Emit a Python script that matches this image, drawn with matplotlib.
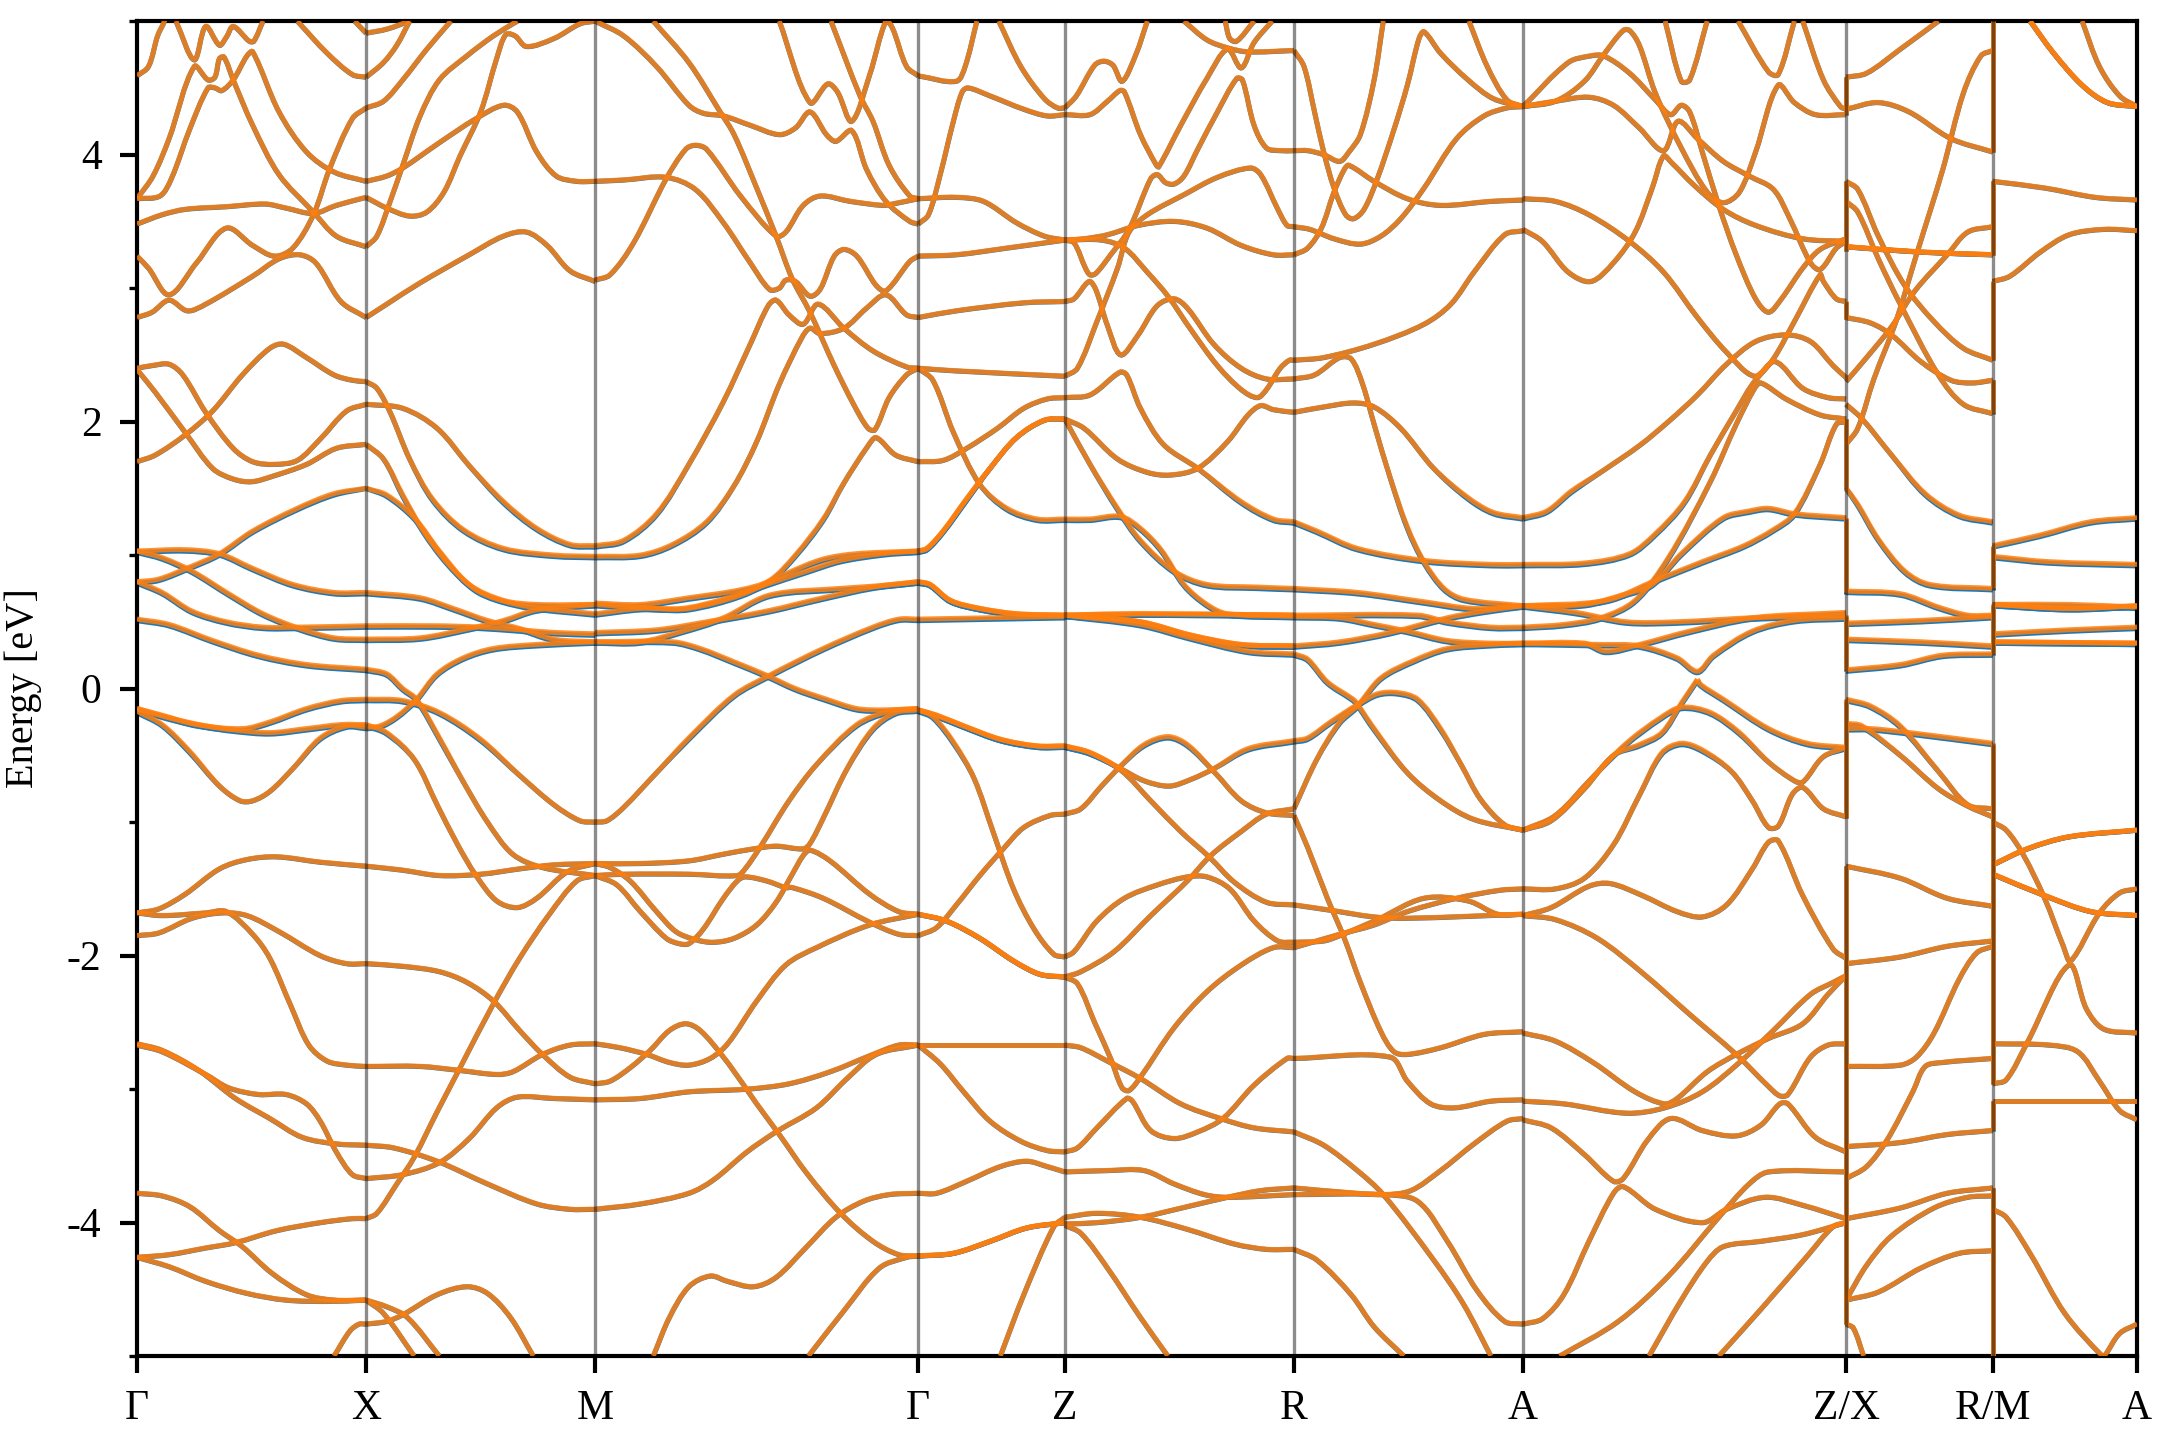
import numpy as np
import matplotlib
matplotlib.use("Agg")
import matplotlib.pyplot as plt
from matplotlib.patches import PathPatch
from matplotlib.path import Path

plt.rcParams["font.family"] = ["Liberation Serif", "DejaVu Serif"]

# high symmetry points along the k-path
K_TICKS = [0, 1, 2, 3.41, 4.05, 5.05, 6.05, 7.46, 8.10, 8.73]
K_LABELS = ["Γ", "X", "M", "Γ", "Z", "R", "A", "Z/X", "R/M", "A"]

# every band is a flat list: percent along the segment, energy, percent, energy ...
GX_BANDS = [
    [0,4.59,5,4.66,9,4.89,12,5.0,14,5.1],
    [17,5.0,25,4.71,30,4.96,36,4.82,39,4.88,42,4.96,49,4.85,51,4.85,55,5.0],
    [0,3.67,7,3.84,14,4.12,25,4.66,31,4.56,34,4.58,36,4.72,38,4.73,42,4.56,50.5,4.22,62,3.85,77,3.57,87,3.39,100,3.31],
    [0,3.67,10,3.69,15,3.82,23,4.19,31,4.5,34,4.5,37,4.48,42,4.56,48,4.74,50.5,4.77,62,4.32,74,4.02,86,3.87,100,3.8],
    [0,3.48,11,3.55,21,3.59,39,3.61,56,3.63,65,3.6,77,3.56,87,3.62,100,3.68],
    [0,3.24,5,3.15,14,2.95,26,3.19,39,3.45,50.5,3.32,60,3.24,68,3.3,77,3.55,84,3.89,94,4.27,100,4.35],
    [0,2.78,6.6,2.82,14,2.91,22,2.83,30,2.88,50.5,3.09,62,3.22,71,3.25,78,3.19,89,2.9,100,2.78],
    [95,5.0,100,4.91],
    [70,5.0,83,4.76,94,4.6,100,4.58],
    [0,2.4,6.6,2.42,14,2.43,20,2.35,30,2.07,42,1.8,50.5,1.7,60,1.68,70,1.71,80,1.87,91.5,2.08,100,2.13],
    [0,2.39,8,2.22,21,1.92,33,1.65,42,1.57,50,1.55,59,1.59,74,1.68,87,1.8,100,1.83],
    [0,1.7,8,1.75,21,1.9,33,2.08,46,2.35,58,2.55,64,2.58,74,2.48,86,2.35,94,2.31,100,2.3],
    [0,1.03,21,1.04,36,1.01,50.5,.9,68,.78,86,.72,100,.72],
    [0,1.03,11,.98,24,.88,40,.71,55,.56,71,.45,86,.38,100,.37],
    [0,.8,9.5,.82,23,.91,36,1.01,50.5,1.18,70,1.35,86,1.46,100,1.5],
    [0,.8,11,.72,24,.58,39,.5,55,.46,71,.46,100,.47],
    [0,.52,14,.48,33,.36,53,.25,74,.18,100,.145],
    [0,-.15,11,-.2,26,-.27,46,-.3,58,-.25,74,-.15,89,-.09,100,-.08],
    [0,-.15,14,-.22,30,-.28,42,-.31,58,-.33,74,-.3,89,-.27,100,-.27],
    [0,-.17,11,-.27,23,-.47,36,-.73,45,-.84,50.5,-.84,58,-.77,68,-.6,80,-.37,91.5,-.28,100,-.29],
    [0,-1.68,9.5,-1.65,21,-1.54,36,-1.35,48,-1.28,61,-1.26,80,-1.3,100,-1.33],
    [0,-1.68,11,-1.7,30,-1.68,39,-1.67,50.5,-1.84,58,-2.02,67,-2.37,75,-2.67,83,-2.79,91.5,-2.82,100,-2.83],
    [0,-1.85,9.5,-1.83,24,-1.72,37,-1.68,48,-1.7,62,-1.82,80,-2.0,91.5,-2.06,100,-2.06],
    [0,-2.67,11,-2.72,30,-2.89,40,-2.99,53,-3.04,65,-3.04,74,-3.11,80,-3.24,87,-3.47,94,-3.64,100,-3.67],
    [0,-2.66,11,-2.71,27,-2.86,43,-3.07,58,-3.22,72,-3.36,87,-3.41,100,-3.42],
    [0,-3.78,11,-3.8,23,-3.88,36,-4.06,46,-4.18,59,-4.38,74,-4.54,86,-4.58,100,-4.58],
    [0,-4.26,14,-4.24,30,-4.19,43,-4.15,61,-4.06,80,-4.0,94,-3.97,100,-3.97],
    [0,-4.26,14,-4.33,30,-4.44,48,-4.53,65,-4.58,83,-4.59,100,-4.58],
    [86,-5,93,-4.81,97,-4.76,100,-4.76],
]

XM_BANDS = [
    [0,4.91,9,4.94,19,5.0],
    [0,4.58,7.6,4.69,13.4,4.82,19,5.0],
    [0,4.35,7.6,4.4,16,4.56,26.5,4.79,37,5.0],
    [0,3.31,4.7,3.39,10.5,3.65,16,3.92,23.6,4.29,32,4.56,44,4.74,55.6,4.89,66,5.0],
    [0,3.8,9,3.84,16,3.9,32,4.09,48,4.27,60,4.37,66,4.32,74.5,4.02,83,3.84,92,3.8,100,3.8],
    [0,3.68,9,3.6,19,3.54,26.5,3.57,34,3.72,41,3.99,50,4.32,57,4.72,61,4.9,65,4.89,70,4.81,82,4.87,93.4,4.98,100,5.0],
    [0,2.78,9,2.88,23.6,3.04,45,3.25,60,3.39,70,3.42,79,3.32,89,3.13,100,3.05],
    [0,2.3,4.7,2.25,10.5,2.07,19,1.72,29,1.42,42.5,1.19,60,1.05,82,1.0,100,.99],
    [0,2.13,16,2.1,31,1.95,45,1.67,60,1.4,74.5,1.2,89,1.08,100,1.07],
    [0,1.83,7.6,1.72,16,1.45,25,1.18,35,.95,47,.75,57,.67,72,.61,100,.56],
    [0,1.5,9,1.45,21,1.28,32,1.03,45,.78,60,.66,74.5,.63,100,.63],
    [0,.72,23.6,.68,38,.6,53,.51,67,.45,82,.37,100,.35],
    [0,.47,31,.47,50,.46,67,.44,82,.42,100,.41],
    [0,.37,23.6,.38,45,.45,60,.51,74.5,.59,100,.63],
    [0,.145,9,.11,16,0,22,-.08,32,-.37,42.5,-.7,53,-1.0,64,-1.24,77,-1.34,100,-1.4],
    [0,-.08,16,-.09,32,-.18,50,-.38,67,-.65,82,-.87,93.4,-.99,100,-1.0],
    [0,-.29,6,-.28,13.4,-.21,22,-.08,31,.11,42.5,.23,55.6,.3,74.5,.33,100,.35],
    [0,-.27,9,-.33,21,-.53,31,-.87,40,-1.17,48,-1.4,57,-1.59,66,-1.64,74.5,-1.57,88,-1.37,100,-1.31],
    [0,-1.33,16,-1.36,32,-1.4,50,-1.39,67,-1.35,82,-1.32,100,-1.31],
    [0,-2.06,16,-2.08,32,-2.12,44,-2.2,55.6,-2.34,67,-2.56,77,-2.74,89,-2.91,100,-2.96],
    [0,-3.97,4.7,-3.93,13.4,-3.71,21,-3.51,31,-3.17,41,-2.84,55.6,-2.36,67,-2.02,80,-1.69,92,-1.44,100,-1.4],
    [0,-2.83,23.6,-2.83,41,-2.86,57,-2.89,64,-2.87,77,-2.74,89,-2.67,100,-2.66],
    [0,-3.42,12,-3.44,31,-3.54,53,-3.71,74.5,-3.86,89,-3.9,100,-3.9],
    [0,-3.67,16,-3.64,32,-3.55,45,-3.37,57,-3.14,66,-3.06,82,-3.07,100,-3.08],
    [0,-4.58,9,-4.63,18,-4.71,32,-5.0],
    [0,-4.58,7.6,-4.68,21,-5.0],
    [0,-4.76,9,-4.74,16,-4.69,31,-4.54,44,-4.48,53,-4.53,63,-4.71,73,-5.0],
]

MG_BANDS = [
    [0,5.0,8.8,4.89,19,4.66,29,4.37,33.5,4.31,39.7,4.29,48,4.22,57,4.15,62,4.2,66.5,4.32,71.6,4.15,74.5,4.1,79.4,4.18,84,3.89,90,3.65,97.4,3.5,100,3.48],
    [18,5.0,29,4.69,38.7,4.32,43,4.15,50,3.75,56,3.39,61,3.07,66.5,2.82,74,2.42,80,2.13,84.5,1.95,86.6,1.94,91,2.18,96.4,2.35,100,2.4],
    [57,5.0,66.5,4.39,72,4.53,75,4.47,79.4,4.25,85,4.6,90,5.0,92,4.95,96.4,4.66,100,4.59],
    [73,5.0,82,4.44,86,4.25,91,3.92,97.4,3.69,100,3.67],
    [0,3.8,8.8,3.81,22,3.83,31,3.74,39.7,3.49,48,3.19,54,2.99,57,3.0,59,3.06,62,3.05,66.5,2.94,69.6,2.99,74,3.24,77,3.29,81,3.24,87,3.02,90,2.98,97.4,3.2,100,3.24],
    [0,3.06,4.6,3.1,11.9,3.34,22,3.82,28,4.04,31,4.07,34.5,4.04,45,3.69,56,3.39,59,3.42,64.4,3.62,69.6,3.69,79,3.65,89,3.62,92,3.63,100,3.67],
    [0,1.07,8.8,1.11,19,1.31,29,1.68,39.7,2.15,48,2.58,53.6,2.87,56,2.91,60,2.8,64.4,2.73,69,2.88,77,2.7,86,2.53,96.4,2.41,100,2.4],
    [0,.99,14,1.0,24,1.08,34.5,1.25,43,1.52,50,1.85,57,2.28,64,2.63,66.5,2.7,69.6,2.66,77,2.7,84,2.85,90,2.95,96.4,2.8,100,2.78],
    [0,.64,14,.63,29,.68,45,.74,54,.81,62,1.0,70.6,1.27,77,1.54,84.5,1.82,87,1.88,93,1.75,100,1.7],
    [0,.56,14,.6,27,.6,39.7,.67,53,.78,65.5,.88,76,.96,89,1.01,100,1.03],
    [0,.63,19,.6,29,.6,45,.7,60,.87,70.6,.97,81,1.01,100,1.03],
    [0,.42,19,.44,34.5,.5,53,.58,70.6,.68,86,.76,100,.8],
    [0,.35,14,.35,27,.43,39.7,.53,54,.7,76,.75,88,.77,100,.8],
    [0,.35,24,.35,32.5,.3,43,.2,53,.1,62,0,71.6,-.08,81,-.15,89,-.16,100,-.15],
    [0,-1.0,3.6,-.99,8.8,-.89,19,-.63,29,-.37,43,-.05,54,.1,70.6,.3,86,.46,94,.52,100,.52],
    [0,-1.31,14,-1.31,29,-1.29,39.7,-1.24,49,-1.2,56,-1.18,64.4,-1.2,66.5,-1.16,70.6,-.97,78,-.6,86,-.3,93,-.18,100,-.16],
    [0,-1.4,8.8,-1.39,29,-1.39,44,-1.4,46.4,-1.35,51,-1.19,60,-.84,68.5,-.57,81,-.27,91,-.17,100,-.15],
    [0,-1.4,6.7,-1.47,14,-1.67,22,-1.87,26,-1.91,29,-1.91,33.5,-1.8,39.7,-1.57,44,-1.44,46.4,-1.41,53,-1.44,59,-1.49,61,-1.49,70.6,-1.57,85,-1.75,94,-1.84,100,-1.85],
    [0,-1.31,4.6,-1.34,10.8,-1.44,19,-1.67,25,-1.82,31,-1.88,36.6,-1.9,43,-1.87,50,-1.77,56,-1.6,61,-1.39,64.4,-1.25,66.5,-1.21,72.7,-1.29,85,-1.54,94,-1.67,100,-1.69],
    [0,-2.66,7.7,-2.69,16,-2.74,23,-2.8,29,-2.82,35.6,-2.77,41,-2.66,50,-2.34,59,-2.07,68.5,-1.94,85,-1.77,100,-1.69],
    [0,-2.96,4.6,-2.94,10.8,-2.84,17,-2.71,23,-2.56,28,-2.51,32.5,-2.56,39.7,-2.76,46,-2.97,50,-3.11,57,-3.34,65.5,-3.63,76,-3.93,86,-4.14,94,-4.24,100,-4.25],
    [0,-3.08,14,-3.07,29,-3.02,47,-3.0,60,-2.96,72.7,-2.87,86,-2.74,94,-2.67,100,-2.67],
    [0,-3.9,14,-3.86,29,-3.78,36.6,-3.68,47,-3.47,56,-3.32,68.5,-3.14,78,-2.92,87,-2.74,100,-2.67],
    [18,-5,23,-4.71,29,-4.48,35.6,-4.4,41,-4.44,49,-4.48,56,-4.41,65.5,-4.18,74.5,-3.96,83,-3.84,91,-3.79,100,-3.78],
    [66,-5,77,-4.66,88,-4.34,96.4,-4.26,100,-4.25],
]

GZ_BANDS = [
    [0,4.59,26,4.55,32,4.66,40,5.0],
    [0,3.48,7,3.55,15,3.85,24,4.25,30,4.47,34,4.5,49,4.44,72,4.34,88,4.29,100,4.3],
    [55,5.0,70,4.66,86,4.42,95,4.35,100,4.35],
    [0,3.67,26,3.68,44.5,3.65,67,3.49,86,3.39,100,3.36],
    [0,3.24,26,3.25,60.5,3.3,100,3.36],
    [0,2.78,26,2.83,72,2.89,100,2.9],
    [0,2.4,26,2.38,100,2.34],
    [0,2.4,10,2.31,24,1.92,42,1.53,60.5,1.35,81,1.27,100,1.27],
    [0,1.7,17,1.71,33,1.8,54,1.95,72,2.1,88,2.17,100,2.18],
    *[[0,1.03,6,1.05,17,1.18,33,1.42,49,1.65,67,1.88,86,2.01,100,2.02]]*2,
    *[[0,.8,8,.78,22,.66,42,.6,67,.56,100,.55]]*2,
    [0,.52,100,.54],
    *[[0,-.16,12.5,-.2,31,-.28,56,-.38,81,-.43,100,-.43]]*2,
    [0,-.16,10,-.21,24,-.4,38,-.67,51,-1.07,65,-1.5,79,-1.8,92.5,-1.99,100,-2.01],
    *[[0,-1.69,19,-1.74,42,-1.87,65,-2.04,83,-2.14,100,-2.16]]*2,
    [0,-1.85,12.5,-1.79,26,-1.62,42,-1.4,58,-1.2,72,-1.04,90,-.95,100,-.94],
    [0,-2.67,100,-2.67],
    [0,-2.67,15,-2.81,31,-3.02,49,-3.24,70,-3.39,88,-3.46,100,-3.47],
    [0,-3.78,12.5,-3.78,33,-3.69,56,-3.58,74,-3.54,88,-3.58,100,-3.62],
    *[[0,-4.25,24,-4.23,49,-4.14,74,-4.04,100,-4.0]]*2,
    [56,-5,72,-4.54,92.5,-4.03,100,-3.96],
]

ZR_BANDS = [
    [0,4.35,5,4.44,13,4.67,17,4.7,21,4.67,25,4.55,31,4.75,36,5.0],
    [0,4.3,11,4.3,18.6,4.4,24,4.48,26,4.47,33,4.15,40,3.92,41,3.91,50.6,4.22,62,4.57,71,4.79,77,4.65,82.6,4.84,90.5,5.0],
    [52,5.0,62,4.86,71,4.8,80,4.77,100,4.78],
    [70,5.0,72,4.87,75,4.85,82.6,5.0],
    [0,3.36,4,3.34,9,3.15,11,3.1,13.5,3.11,20,3.25,28,3.44,37.5,3.82,40.4,3.85,44,3.79,47.7,3.78,52,3.84,58,4.04,66.6,4.32,75,4.57,77.5,4.56,82.6,4.22,88,4.05,94,4.03,100,4.03],
    [0,3.36,16,3.36,26,3.3,36,3.12,45,2.94,55,2.69,66.6,2.42,77,2.24,84,2.18,88,2.24,94,2.4,98,2.46,100,2.46],
    [0,3.36,8.4,3.37,18.6,3.4,32,3.47,47.7,3.5,62,3.45,77,3.32,91,3.25,100,3.25],
    [0,2.9,4,2.92,10.6,3.05,13.5,2.99,18.6,2.72,24.4,2.5,32,2.65,40.4,2.87,47.7,2.92,53.5,2.85,65,2.58,77,2.4,88,2.32,100,2.32],
    [0,2.34,5.5,2.4,14,2.75,23,3.15,28,3.42,36,3.55,52,3.7,66.6,3.83,81,3.9,85.5,3.85,93,3.59,97,3.47,100,3.46],
    [0,2.18,11,2.2,24,2.37,27,2.35,33,2.1,43,1.83,58,1.65,77,1.4,91,1.27,100,1.25],
    [0,2.02,8.4,1.95,23,1.72,36,1.62,46,1.6,58,1.65,71,1.85,80,2.05,85.5,2.12,91,2.09,100,2.07],
    [0,2.02,11,1.68,23,1.35,33,1.11,47.7,.88,62,.78,84,.76,100,.75],
    [0,1.27,11,1.27,24.4,1.29,33,1.2,42,1.04,52,.78,62,.63,71,.56,100,.54],
    *[[0,.55,33,.56,100,.55]]*2,
    *[[0,.55,33,.5,55,.4,77,.33,100,.32]]*2,
    [0,.55,33,.48,55,.38,80,.28,100,.26],
    [0,-.43,11,-.48,24.4,-.6,34.6,-.69,45.5,-.73,55,-.68,65,-.6,80,-.45,100,-.39],
    [0,-.43,11,-.48,24.4,-.61,37.5,-.84,50.6,-1.07,63,-1.26,74,-1.45,88,-1.6,100,-1.62],
    [0,-.94,7,-.9,16,-.73,24.4,-.58,34.6,-.42,45,-.36,53.5,-.42,65,-.62,77,-.84,88,-.93,100,-.95],
    [0,-2.01,4,-1.97,14,-1.74,26,-1.57,40.4,-1.47,53.5,-1.41,62,-1.41,72,-1.5,82.6,-1.74,93,-1.89,100,-1.9],
    [0,-2.16,7,-2.12,21.5,-1.97,37.5,-1.7,53.5,-1.44,63.7,-1.25,77,-1.07,88,-.94,100,-.9],
    [0,-2.16,5.5,-2.21,13,-2.5,20,-2.77,25,-2.99,28,-3.01,33,-2.91,47.7,-2.54,62,-2.27,77,-2.07,91,-1.94,100,-1.94],
    [0,-2.67,7,-2.69,18.6,-2.79,33,-2.92,50.6,-3.11,68,-3.22,82.6,-3.29,100,-3.32],
    [0,-3.47,5.5,-3.44,14,-3.29,27,-3.07,29.5,-3.09,37.5,-3.31,47.7,-3.37,58,-3.32,69,-3.22,82.6,-2.97,97,-2.77,100,-2.77],
    [0,-3.62,18.6,-3.61,34.6,-3.61,47.7,-3.71,61,-3.79,71,-3.81,100,-3.79],
    [0,-3.96,14,-3.93,33,-3.96,53.5,-4.05,74,-4.16,88,-4.2,100,-4.2],
    [0,-4.01,14,-4.0,33,-3.96,53.5,-3.88,71,-3.81,85.5,-3.76,100,-3.74],
    [0,-4.02,7,-4.08,18.6,-4.34,33,-4.71,45,-5.0],
]

RA_BANDS = [
    [0,4.78,4.4,4.66,9,4.32,13,4.02,17.5,3.75,22.6,3.55,26,3.52,30.6,3.59,36.4,3.82,43.7,4.19,49.5,4.52,54.6,4.87,56.8,4.92,64,4.76,76,4.56,87,4.42,100,4.36],
    [0,4.03,6,4.03,13,4.0,20,3.95,24,4.02,29,4.15,35,4.56,39,5.0],
    [0,3.46,7,3.44,17.5,3.37,29,3.33,38,3.39,46.6,3.52,56.8,3.75,71,4.12,83,4.29,93,4.35,100,4.36],
    [0,3.25,6,3.3,12,3.45,17.5,3.72,22,3.89,24,3.92,35,3.8,49.5,3.67,64,3.62,86,3.65,100,3.66],
    [76.4,5.0,84.4,4.66,93,4.41,100,4.36],
    [0,2.46,13,2.48,35,2.58,56.8,2.73,68.5,2.88,78.6,3.12,92,3.4,100,3.43],
    [0,2.32,9,2.35,20,2.48,25,2.47,30,2.28,35,1.98,42,1.58,49.5,1.21,56.8,.95,65.5,.75,74,.67,100,.62],
    [0,2.07,13,2.11,26,2.14,35,2.11,46.6,1.95,61,1.65,76,1.43,87,1.32,100,1.28],
    [0,1.25,10,1.18,27.7,1.05,56.8,.96,86,.93,100,.93],
    [0,.75,27.7,.72,56.8,.65,78.6,.6,100,.62],
    [0,.55,54,.55,67,.5,86,.46,100,.46],
    [0,.54,20,.53,35,.48,49.5,.43,67,.36,86,.34,100,.34],
    [0,.32,20,.35,42,.42,67,.53,83,.58,100,.62],
    [0,.26,6,.22,14.6,.05,25,-.07,27,-.1,35,-.3,49.5,-.63,64,-.84,78.6,-.98,100,-1.06],
    [0,-.9,10,-.53,20,-.25,27.7,-.13,38,.08,52.4,.21,67,.3,86,.33,100,.34],
    [0,-.39,6,-.37,16,-.25,27.7,-.12,36.4,-.04,45,-.03,54,-.08,64,-.3,73,-.57,81.5,-.83,92,-1.02,100,-1.06],
    [0,-.95,6,-1.19,14.6,-1.57,22,-1.87,29,-2.2,38,-2.57,43.7,-2.72,49.5,-2.74,64,-2.69,83,-2.59,100,-2.57],
    [0,-1.62,16,-1.66,35,-1.71,49.5,-1.72,100,-1.69],
    [0,-1.9,13,-1.89,20,-1.85,36.4,-1.73,56.8,-1.57,76,-1.59,89,-1.69,100,-1.69],
    [0,-1.94,20,-1.84,35,-1.77,49.5,-1.67,71,-1.57,90,-1.51,100,-1.5],
    [0,-2.77,42,-2.76,49.5,-2.94,59.7,-3.11,70,-3.14,86,-3.09,100,-3.08],
    [0,-3.32,13,-3.42,27.7,-3.61,39,-3.79,61,-4.28,74,-4.61,86,-5.0],
    [0,-3.79,39,-3.79,54,-3.84,67,-4.14,80,-4.51,92,-4.74,100,-4.76],
    [0,-3.74,20,-3.77,39,-3.79,51,-3.76,64,-3.61,78.6,-3.41,93,-3.24,100,-3.22],
    [0,-4.2,10,-4.28,25,-4.54,35,-4.78,48,-5.0],
]

AZ_BANDS = [
    [0,4.36,10,4.4,19,4.55,25,4.75,31,4.93,33,4.93,36,4.82,41,4.46,49,4.05,57,3.72,62,3.64,67,3.72,72,4.02,79,4.52,84,4.39,90.5,4.3,100,4.3],
    [0,4.36,14,4.69,21,4.74,25,4.74,33,4.61,41,4.41,45.7,4.3,49,4.37,51.6,4.32,55.5,4.02,60.6,3.62,66,3.25,72,2.92,76,2.82,80,2.92,86.6,3.15,92,3.29,100,3.37],
    [0,4.36,10,4.4,20.4,4.43,28,4.37,36,4.2,43.5,4.03,48,4.25,54,4.12,62,3.95,70,3.84,77.5,3.74,82.6,3.52,89,3.19,92,3.14,97,3.3,100,3.35],
    [44,5.0,49,4.55,51.6,4.56,57,5.0],
    [66.6,5.0,76,4.62,79,4.6,84,5.0],
    [86.6,5.0,93,4.56,98.3,4.36,100,4.34],
    [0,3.67,10,3.65,20.4,3.55,33,3.35,43.5,3.12,54,2.78,63,2.52,71.7,2.34,78,2.45,86.6,2.25,94.4,2.18,100,2.17],
    [0,3.44,6,3.35,14,3.12,21,3.05,28,3.19,34.7,3.42,40,3.75,43.5,3.99,46,3.94,53,3.77,62,3.59,72,3.47,86.6,3.37,100,3.35],
    [0,1.28,7.4,1.33,15,1.48,24,1.62,36,1.82,45,2.0,54,2.2,63,2.43,72,2.6,81.4,2.65,89,2.6,96,2.42,100,2.33],
    [0,.93,19,.94,33,1.01,41,1.16,50,1.4,58,1.75,66,2.08,71,2.28,77.5,2.47,84,2.75,92,3.1,93,3.05,97,2.92,100,2.9],
    [0,.46,12.6,.48,24,.53,34.7,.66,45,.98,58,1.55,66,1.98,71.7,2.25,73.6,2.29,81.4,2.17,92,2.05,100,2.02],
    [0,.62,19,.63,32,.71,40,.78,49,1.01,62,1.28,70,1.33,76,1.35,84,1.31,100,1.28],
    [0,.62,25.6,.66,41,.81,55.5,.95,68.4,1.07,77.5,1.19,84,1.31,92,1.68,97,1.98,100,2.0],
    [0,.62,16.5,.57,32,.5,47.7,.5,71,.53,100,.55],
    [0,.34,19,.34,25.6,.28,36,.33,51.6,.43,71,.53,100,.57],
    [0,.34,24,.33,36,.32,47.7,.23,54,.13,59,.25,71,.43,84,.51,100,.53],
    [0,-1.06,8.7,-.99,19,-.75,28,-.5,36,-.42,43,-.33,49,-.11,54,.07],
    [0,-1.06,10,-.95,21.7,-.66,32,-.41,42.5,-.22,49,-.14,58,-.18,67,-.33,76,-.55,84,-.69,86.6,-.7,93,-.51,100,-.44],
    [54,.07,55,.03,62,-.08,76,-.3,88,-.41,100,-.44],
    [0,-1.5,10,-1.5,19,-1.42,28,-1.17,36,-.8,43,-.48,49,-.41,55.5,-.46,64.5,-.62,71,-.84,76,-1.04,79,-1.03,83.4,-.79,86.6,-.74,93,-.9,100,-.96],
    [0,-1.7,8.7,-1.64,20.4,-1.48,27,-1.46,37,-1.55,47.7,-1.67,55.5,-1.71,63,-1.62,71,-1.35,76,-1.15,79,-1.14,86.6,-1.55,96,-1.95,100,-2.02],
    [0,-1.7,10,-1.73,23,-1.87,37,-2.13,51.6,-2.44,66,-2.74,76,-2.98,79.5,-3.05,82,-3.04,89,-2.76,94.4,-2.67,100,-2.66],
    [0,-2.58,10,-2.64,21.7,-2.8,34.7,-3.02,43.8,-3.11,47.7,-3.07,57,-2.87,66,-2.74,76,-2.62,86.6,-2.51,94.4,-2.29,100,-2.15],
    [0,-3.09,12.6,-3.11,32,-3.18,43.8,-3.14,55.5,-3.02,67,-2.8,77.5,-2.56,89,-2.29,96,-2.2,100,-2.15],
    [0,-3.23,8.7,-3.29,19,-3.49,28,-3.69,31,-3.67,38.6,-3.38,45.7,-3.22,55.5,-3.31,66,-3.35,73.6,-3.27,79.5,-3.11,82,-3.11,90.5,-3.36,100,-3.47],
    [0,-4.76,6,-4.72,12.6,-4.54,20.4,-4.14,28,-3.78,31,-3.73,41,-3.9,55.5,-4.0,63,-3.9,75,-3.81,86.6,-3.87,100,-3.97],
    [11.3,-5,29.5,-4.74,45,-4.4,60.6,-3.96,70,-3.71,76,-3.62,100,-3.62],
    [39,-5,49,-4.58,57,-4.29,62,-4.18,73.6,-4.14,86.6,-4.09,100,-4.0],
    [60.6,-5,73.6,-4.65,88,-4.25,96,-4.03,100,-4.0],
]

XR_BANDS = [
    [0,4.58,14,4.61,37,4.79,63,5.0],
    [0,4.34,22,4.39,43,4.32,71.6,4.12,100,4.02],
    [0,3.8,8,3.74,22,3.39,40,3.02,60,2.75,80,2.55,100,2.46],
    [0,3.65,8,3.57,22,3.22,37,2.88,63,2.35,80,2.13,100,2.06],
    *[[0,3.31,51,3.27,100,3.25]]*2,
    [0,2.78,16.5,2.74,31,2.65,51,2.45,71.6,2.31,86,2.29,100,2.31],
    [0,2.3,14,2.48,31,2.71,47,2.98,69,3.25,83,3.42,100,3.46],
    [0,1.83,8,1.95,19,2.32,34,2.75,48,3.25,66,3.89,80,4.46,92,4.74,100,4.78],
    [0,2.13,11,2.02,31,1.75,54,1.46,77,1.3,100,1.25],
    [0,1.5,8,1.38,22,1.12,40,.88,57,.78,100,.75],
    [0,.73,37,.71,63,.61,83,.55,100,.55],
    [0,.49,51,.51,100,.54],
    [0,.37,51,.35,100,.32],
    [0,.14,37,.18,66,.25,100,.26],
    [0,-.08,16.5,-.13,37,-.28,63,-.62,83,-.87,100,-.9],
    [0,-.26,11,-.28,37,-.5,63,-.75,83,-.88,100,-.96],
    [0,-.3,16.5,-.3,43,-.33,100,-.41],
    [0,-1.33,37,-1.42,69,-1.57,100,-1.63],
    [0,-2.06,37,-2.01,69,-1.93,100,-1.89],
    [0,-2.83,37,-2.82,48,-2.76,60,-2.58,77,-2.18,89,-1.98,100,-1.93],
    [0,-3.43,37,-3.4,69,-3.34,100,-3.31],
    [0,-3.67,14,-3.58,28,-3.38,45.5,-3.02,54,-2.83,66,-2.8,100,-2.77],
    [0,-3.97,37,-3.89,69,-3.78,100,-3.74],
    [0,-4.58,14,-4.32,31,-4.1,60,-3.89,83,-3.81,100,-3.8],
    [0,-4.58,22,-4.52,51,-4.34,77,-4.23,100,-4.21],
    [0,-4.76,5,-4.79,12,-5.0],
]

MA_BANDS = [
    *[[26,5.0,41.5,4.77,62,4.52,79.5,4.39,100,4.36]]*2,
    [62,5.0,74,4.66,88,4.44,100,4.36],
    [0,3.8,36,3.75,71,3.68,100,3.66],
    [0,3.05,12,3.09,33,3.27,53,3.4,77,3.44,100,3.43],
    [0,1.07,33,1.15,68,1.25,100,1.28],
    [0,.99,39,.95,100,.93],
    *[[0,.63,53,.6,100,.62]]*2,
    [0,.63,53,.63,100,.61],
    [0,.41,53,.44,100,.46],
    *[[0,.35,100,.34]]*2,
    [0,-1.0,9.4,-1.06,21,-1.24,36,-1.57,49,-1.93,54,-2.04,74,-1.68,88,-1.53,100,-1.5],
    [0,-2.96,9.4,-2.93,24,-2.65,53,-2.07,65,-2.4,77,-2.55,100,-2.58],
    *[[0,-1.32,24,-1.2,53,-1.11,100,-1.06]]*2,
    *[[0,-1.39,36,-1.55,68,-1.67,100,-1.7]]*2,
    [0,-2.66,39,-2.67,59,-2.72,74,-2.94,88,-3.16,100,-3.23],
    [0,-3.09,100,-3.09],
    [0,-3.9,9.4,-3.96,27,-4.25,50,-4.68,76,-5.0,78,-4.99,88,-4.83,100,-4.76],
]

# the bands are plotted as one line per index, so they jump at the path breaks
JUMPS_ZX = [(4.58,4.3), (3.8,3.28), (2.9,2.77), (2.02,1.5), (1.28,.72), (.55,.14), (-.08,-.97), (-1.33,-4.76)]
JUMPS_RM = [(5,4.02), (3.8,3.25), (3.05,2.46), (2.31,2.06), (1.07,.75), (.63,.26), (-.41,-2.96), (-3.09,-3.31), (-3.74,-5)]

SEGMENTS = [GX_BANDS, XM_BANDS, MG_BANDS, GZ_BANDS, ZR_BANDS, RA_BANDS, AZ_BANDS, XR_BANDS, MA_BANDS]

LW = 1.2
SPIN_GAP = 0.012  # blue spin channel peeks out under the orange one near the Fermi level


def band_path(ax, x, e):
    # bezier through the read points, tangents scaled by the on-screen chord lengths
    p = np.column_stack([x, e])
    if len(p) == 2:
        return Path(p)
    d = np.hypot(*np.diff(ax.transData.transform(p), axis=0).T)
    tan = np.zeros_like(p)
    tan[1:-1] = (p[2:] - p[:-2]) / (d[:-1] + d[1:])[:, None]
    tan[0] = (p[1] - p[0]) / d[0]
    tan[-1] = (p[-1] - p[-2]) / d[-1]
    verts, codes = [p[0]], [Path.MOVETO]
    for i in range(len(p) - 1):
        verts += [p[i] + tan[i] * d[i] / 3, p[i + 1] - tan[i + 1] * d[i] / 3, p[i + 1]]
        codes += [Path.CURVE4] * 3
    return Path(verts, codes)


def draw(ax, x, e):
    x, e = np.asarray(x, float), np.asarray(e, float)
    gap = np.where(np.abs(e - 0.5) < 1.0, SPIN_GAP, 0.002)
    ax.add_patch(PathPatch(band_path(ax, x, e - gap), fill=False, edgecolor="tab:blue",
                           lw=LW, zorder=2))
    ax.add_patch(PathPatch(band_path(ax, x, e), fill=False, edgecolor="tab:orange",
                           lw=LW, alpha=0.85, zorder=3))


fig = plt.figure(figsize=(7.2, 4.8), dpi=300)
ax = fig.add_axes([137 / 2160, 1 - 1356 / 1440, 2000 / 2160, 1335 / 1440])
ax.set_xlim(K_TICKS[0], K_TICKS[-1])
ax.set_ylim(-5, 5)

for seg, k0, k1 in zip(SEGMENTS, K_TICKS[:-1], K_TICKS[1:]):
    for band in seg:
        t = np.array(band[::2]) / 100
        e = np.array(band[1::2])
        draw(ax, k0 + t * (k1 - k0), e)

for k, jumps in ((K_TICKS[7], JUMPS_ZX), (K_TICKS[8], JUMPS_RM)):
    for lo, hi in jumps:
        draw(ax, [k, k], [lo, hi])

for k in K_TICKS[1:-1]:
    ax.axvline(k, color="k", lw=0.8, alpha=0.45, zorder=4)

ax.set_xticks(K_TICKS)
ax.set_xticklabels(K_LABELS)
ax.set_yticks([-4, -2, 0, 2, 4])
ax.set_yticklabels(["-4", "-2", "0", "2", "4"])
ax.set_yticks([-5, -3, -1, 1, 3, 5], minor=True)
ax.tick_params(axis="x", which="major", length=4, width=1, labelsize=10, pad=4)
ax.tick_params(axis="y", which="major", length=4, width=1, labelsize=10, pad=4.5)
ax.tick_params(axis="y", which="minor", length=2, width=0.8)
ax.set_ylabel("Energy [eV]", fontsize=9.7, labelpad=6)
for s in ax.spines.values():
    s.set_linewidth(1)

fig.savefig("out.png", dpi=300)
